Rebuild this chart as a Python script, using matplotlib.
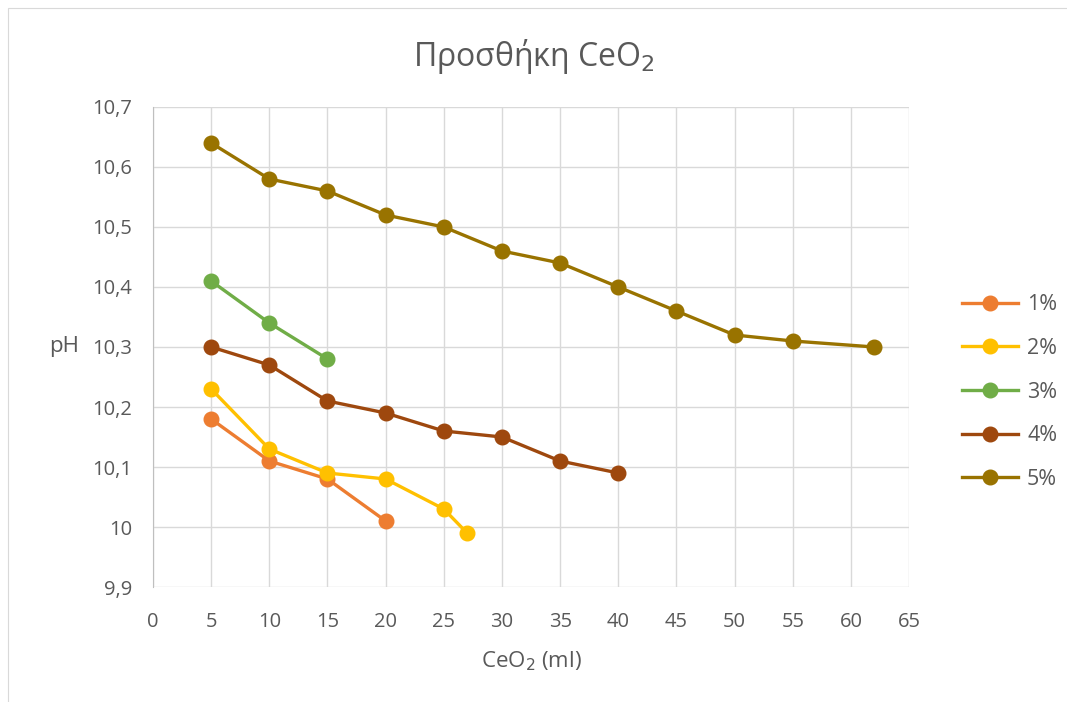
import matplotlib.pyplot as plt
from matplotlib.patches import Rectangle
from matplotlib.ticker import FuncFormatter, MultipleLocator

plt.rcParams['font.family'] = ['Open Sans', 'DejaVu Sans']

x1 = [5, 10, 15, 20]
y1 = [10.18, 10.11, 10.08, 10.01]
x2 = [5, 10, 15, 20, 25, 27]
y2 = [10.23, 10.13, 10.09, 10.08, 10.03, 9.99]
x3 = [5, 10, 15]
y3 = [10.41, 10.34, 10.28]
x4 = [5, 10, 15, 20, 25, 30, 35, 40]
y4 = [10.30, 10.27, 10.21, 10.19, 10.16, 10.15, 10.11, 10.09]
x5 = [5, 10, 15, 20, 25, 30, 35, 40, 45, 50, 55, 62]
y5 = [10.64, 10.58, 10.56, 10.52, 10.50, 10.46, 10.44, 10.40, 10.36, 10.32, 10.31, 10.30]
labels = ['1%', '2%', '3%', '4%', '5%']
colors = ['#ED7D31', '#FFC000', '#70AD47', '#9E480E', '#997300']

txt = '#595959'
fig = plt.figure(figsize=(10.67, 7.02), dpi=100)
fig.patches.append(Rectangle((0.0075, -0.01), 1.1, 0.999, transform=fig.transFigure,
                             fill=False, edgecolor='#D9D9D9', linewidth=0.8))
ax = fig.add_axes([0.1434, 0.1638, 0.852 - 0.1434, 0.8476 - 0.1638])

for xs, ys, lab, c in zip([x1, x2, x3, x4, x5], [y1, y2, y3, y4, y5], labels, colors):
    ax.plot(xs, ys, color=c, linewidth=2.4, marker='o', markersize=10.5, label=lab, zorder=3)

ax.set_xlim(0, 65)
ax.set_ylim(9.9, 10.7)
ax.xaxis.set_major_locator(MultipleLocator(5))
ax.yaxis.set_major_locator(MultipleLocator(0.1))
ax.yaxis.set_major_formatter(FuncFormatter(lambda v, p: f"{round(v, 2):g}".replace('.', ',')))
ax.grid(True, color='#D9D9D9', linewidth=1)
ax.set_axisbelow(True)
for s in ['top', 'right', 'bottom']:
    ax.spines[s].set_visible(False)
ax.spines['left'].set_color('#BFBFBF')
ax.tick_params(length=0, labelsize=14.5, colors=txt)
ax.tick_params(axis='x', pad=18)
ax.tick_params(axis='y', pad=15)

ax.set_xlabel('CeO$_2$ (ml)', fontsize=16, color=txt)
ax.xaxis.set_label_coords(0.5, -0.13)
ax.set_ylabel('pH', fontsize=16, color=txt, rotation=0, va='center', ha='center')
ax.yaxis.set_label_coords(-0.118, 0.5)
fig.text(0.5, 0.919, 'Προσθήκη CeO$_2$', fontsize=23, color=txt, ha='center', va='center')

leg = ax.legend(loc='center left', bbox_to_anchor=(1.045, 0.406), frameon=False,
                fontsize=15.5, labelcolor=txt, labelspacing=1.05, handlelength=2.6,
                handletextpad=0.4)

fig.savefig('out.png', dpi=100)
